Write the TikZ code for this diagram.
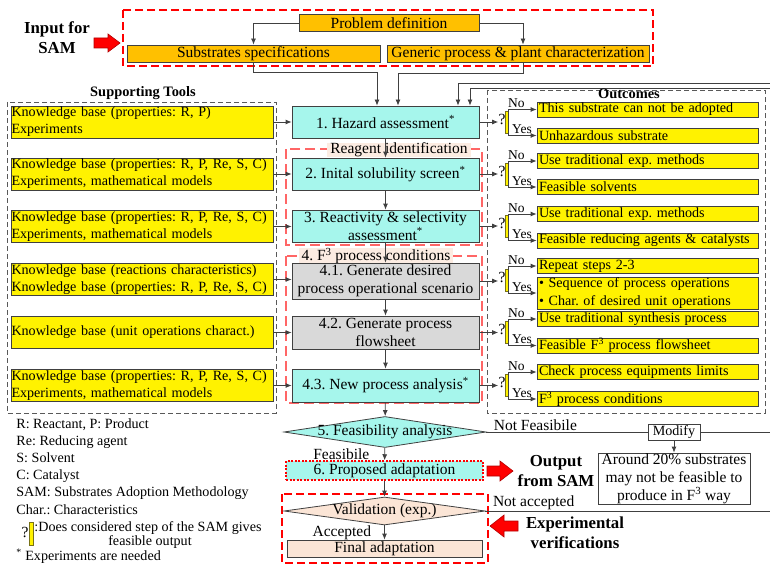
\documentclass[tikz,border=0pt]{standalone}
\usepackage{fontspec}
\setmainfont{Liberation Serif}
\usetikzlibrary{arrows.meta,shapes.geometric}
\definecolor{cOrange}{RGB}{255,192,0}
\definecolor{cCyan}{RGB}{166,246,236}
\definecolor{cGrey}{RGB}{217,217,217}
\definecolor{cPeach}{RGB}{251,229,214}
\definecolor{cTag}{RGB}{252,236,226}
\definecolor{cDark}{RGB}{64,64,64}
\frenchspacing
\begin{document}
\begin{tikzpicture}[x=1pt, y=-1pt, line width=0.8pt, >={Latex[length=6pt,width=5pt]},
	sm/.style={font=\fontsize{14.1}{17.2}\selectfont},
	lg/.style={font=\fontsize{15.5}{17.5}\selectfont},
	lbl/.style={font=\fontsize{13.5}{15}\selectfont, inner sep=1pt},
	hd/.style={font=\fontsize{16.8}{20}\selectfont\bfseries, align=center},
	hdsmall/.style={font=\fontsize{14.4}{17}\selectfont\bfseries, inner sep=0},
	topbox/.style={draw=cDark, fill=cOrange, lg, inner sep=0, minimum height=17},
	stepbox/.style={draw=cDark, fill=cCyan, lg, align=center, inner sep=0, minimum width=187, minimum height=32},
	greybox/.style={stepbox, fill=cGrey},
	toolbox/.style={draw=cDark, fill=yellow, sm, align=left, text width=261, inner xsep=0.5, inner ysep=0, minimum height=32},
	outbox/.style={draw=cDark, fill=yellow, sm, align=left, text width=217, inner xsep=2, inner ysep=0, minimum height=15},
	plainbox/.style={draw=cDark, fill=white, inner sep=0, align=center},
	decision/.style={diamond, draw=cDark, inner sep=0},
	tag/.style={lg, fill=cTag, inner xsep=3, inner ysep=0},
	ask/.style={lg, inner sep=0},
	qbar/.style={draw=olive!80!black, fill=yellow, line width=0.5pt, minimum width=3.5, minimum height=22, inner sep=0},
	redframe/.style={draw=red, line width=1.1pt, dash pattern=on 8pt off 4pt},
	lightframe/.style={draw=red!60, line width=1.1pt, dash pattern=on 10pt off 5pt},
	greyframe/.style={draw=black!65, line width=0.9pt, dash pattern=on 5pt off 3pt},
	redarrow/.style={fill=red, draw=red!70!black, line width=0.6pt},
	link/.style={draw=cDark, ->}]
	\useasboundingbox (0,0) rectangle (770,567);
	\clip (0,0) rectangle (770,567);

	\node[hd] (inlab) at (57,38) {Input for\\SAM};
	\draw[redarrow] (94,38) -- (108,38) -- (108,34) -- (120,43) -- (108,52) -- (108,48) -- (94,48) -- cycle;
	\draw[redframe] (123,10) rectangle (653,66);
	\node[topbox, minimum width=180] (pd) at (389,23) {Problem definition};
	\node[topbox, minimum width=253] (subs) at (253.5,53.5) {Substrates specifications};
	\node[topbox, minimum width=262] (gen) at (518,53.5) {Generic process \& plant characterization};

	\draw[lightframe] (286,149) rectangle (482,245);
	\draw[lightframe] (286,256) rectangle (482,403);
	\node[tag] (reag) at (399,150) {Reagent identification};
	\node[tag] (fcond) at (376,256) {4. F\textsuperscript{3} process conditions};
	\node[stepbox] (haz) at (385.5,122) {1. Hazard assessment\textsuperscript{*}};
	\node[stepbox] (sol) at (385.5,174) {2. Inital solubility screen\textsuperscript{*}};
	\node[stepbox] (rea) at (385.5,226) {3. Reactivity \& selectivity\\assessment\textsuperscript{*}};
	\node[greybox, minimum height=36] (gdes) at (385.5,281) {4.1. Generate desired\\process operational scenario};
	\node[greybox, minimum height=33] (gflow) at (385.5,332.5) {4.2. Generate process\\flowsheet};
	\node[stepbox, minimum height=33] (npa) at (385.5,385.5) {4.3. New process analysis\textsuperscript{*}};
	\node[decision, fill=cCyan, minimum width=202, minimum height=31] (feas) at (385,432) {};
	\node[lg] (feasT) at (feas) {5. Feasibility analysis};
	\node[stepbox, draw=red, line width=1.5pt, dash pattern=on 2pt off 1.5pt, minimum width=197, minimum height=19] (prop) at (384.5,470.5) {6. Proposed adaptation};
	\draw[redframe] (282,494) rectangle (488,563);
	\node[decision, fill=cPeach, minimum width=201, minimum height=28] (val) at (384.5,511) {};
	\node[lg] (valT) at (val) {Validation (exp.)};
	\node[stepbox, fill=cPeach, minimum width=195, minimum height=17] (fin) at (384.5,548.5) {Final adaptation};

	\draw[link] (pd.west) -| (subs.north);
	\draw[link] (pd.east) -| ([xshift=5]gen.north);
	\draw[link] (subs.south) -- ++(0,10) -| ([xshift=-8.5]haz.north);
	\draw[link] ([xshift=5]gen.south) -- ++(0,11) -| ([xshift=12.5]haz.north);
	\draw[link] (haz) -- (sol);
	\draw[link] (sol) -- (rea);
	\draw[link] (rea) -- (gdes);
	\draw[link] (gdes) -- (gflow);
	\draw[link] (gflow) -- (npa);
	\draw[link] (npa) -- (feas);
	\draw[link] (feas) -- (prop) node[midway, left=15pt, lg, inner sep=0] (feasOK) {Feasibile};
	\draw[link] (prop) -- (val);
	\draw[link] (val) -- (fin) node[midway, left=13pt, lg, inner sep=0] (acc) {Accepted};

	\coordinate (fbA) at (458,83);
	\coordinate (fbB) at (470,88);
	\draw[link] (feas.east) -- ++(300,0) node[pos=0.02, above right, inner sep=1pt, lg] (nf) {Not Feasibile} |- (fbB) -- (fbB |- haz.north);
	\draw[link] (val.east) -- ++(310,0) node[pos=0.02, above right, inner sep=1pt, lg] (na) {Not accepted} |- (fbA) -- (fbA |- haz.north);
	\node[plainbox, sm, minimum width=52, minimum height=16] (mod) at (674,432) {Modify};
	\node[plainbox, font=\fontsize{15.5}{18}\selectfont, minimum width=152, minimum height=51] (ar) at (674,478.5) {Around 20\% substrates\\may not be feasible to\\produce in F\textsuperscript{3} way};
	\draw[link] (mod) -- (ar);

	\draw[redarrow] (487,466) -- (500,466) -- (500,461) -- (513,471) -- (500,481) -- (500,476) -- (487,476) -- cycle;
	\node[hd] (outlab) at (556,471) {Output\\from SAM};
	\draw[redarrow] (518,521) -- (504,521) -- (504,515) -- (490,526) -- (504,537) -- (504,531) -- (518,531) -- cycle;
	\node[hd] (explab) at (575,533) {Experimental\\verifications};

	\draw[greyframe] (7,102) rectangle (276,413);
	\node[hdsmall] (tooltitle) at (143,93) {Supporting Tools};
	\node[toolbox] (t1) at (142,122) {Knowledge base (properties: R, P)\\Experiments};
	\node[toolbox] (t2) at (142,174) {Knowledge base (properties: R, P, Re, S, C)\\Experiments, mathematical models};
	\node[toolbox] (t3) at (142,226.5) {Knowledge base (properties: R, P, Re, S, C)\\Experiments, mathematical models};
	\node[toolbox] (t4) at (142,279.5) {Knowledge base (reactions characteristics)\\Knowledge base (properties: R, P, Re, S, C)};
	\node[toolbox] (t5) at (142,332.5) {Knowledge base (unit operations charact.)};
	\node[toolbox] (t6) at (142,385.5) {Knowledge base (properties: R, P, Re, S, C)\\Experiments, mathematical models};
	\draw[link] (t1) -- (t1 -| haz.west);
	\draw[link] (t2) -- (t2 -| sol.west);
	\draw[link] (t3) -- (t3 -| rea.west);
	\draw[link] (t4) -- (t4 -| gdes.west);
	\draw[link] (t5) -- (t5 -| gflow.west);
	\draw[link] (t6) -- (t6 -| npa.west);

	\draw[greyframe] (487,90) rectangle (765,413);
	\node[hdsmall] (outtitle) at (629,94) {Outcomes};
	\node[outbox] (o1n) at (647.5,109.5) {This substrate can not be adopted};
	\node[outbox] (o1y) at (647.5,135.5) {Unhazardous substrate};
	\node[outbox] (o2n) at (647.5,161) {Use traditional exp. methods};
	\node[outbox] (o2y) at (647.5,187) {Feasible solvents};
	\node[outbox] (o3n) at (647.5,214) {Use traditional exp. methods};
	\node[outbox] (o3y) at (647.5,240.5) {Feasible reducing agents \& catalysts};
	\node[outbox] (o4n) at (647.5,266) {Repeat steps 2-3};
	\node[outbox, minimum height=32] (o4y) at (647.5,293) {\textbullet\ Sequence of process operations\\\textbullet\ Char. of desired unit operations};
	\node[outbox] (o5n) at (647.5,319) {Use traditional synthesis process};
	\node[outbox] (o5y) at (647.5,345.5) {Feasible F\textsuperscript{3} process flowsheet};
	\node[outbox] (o6n) at (647.5,372) {Check process equipments limits};
	\node[outbox] (o6y) at (647.5,399) {F\textsuperscript{3} process conditions};

	\node[qbar] (bar1) at (506.5,122) {};
	\node[ask] (ask1) at (502,119) {?};
	\draw[link] (haz) -- (haz -| ask1.west);
	\draw[link] (bar1.east) |- (o1n) node[pos=0.64, above, lbl] (no1) {No};
	\draw[link] (bar1.east) |- (o1y) node[pos=0.74, above, lbl] (yes1) {Yes};

	\node[qbar] (bar2) at (506.5,174) {};
	\node[ask] (ask2) at (502,171) {?};
	\draw[link] (sol) -- (sol -| ask2.west);
	\draw[link] (bar2.east) |- (o2n) node[pos=0.64, above, lbl] (no2) {No};
	\draw[link] (bar2.east) |- (o2y) node[pos=0.74, above, lbl] (yes2) {Yes};

	\node[qbar] (bar3) at (506.5,226) {};
	\node[ask] (ask3) at (502,223) {?};
	\draw[link] (rea) -- (rea -| ask3.west);
	\draw[link] (bar3.east) |- (o3n) node[pos=0.64, above, lbl] (no3) {No};
	\draw[link] (bar3.east) |- (o3y) node[pos=0.74, above, lbl] (yes3) {Yes};

	\node[qbar] (bar4) at (506.5,280) {};
	\node[ask] (ask4) at (502,277) {?};
	\draw[link] (gdes) -- (gdes -| ask4.west);
	\draw[link] (bar4.east) |- (o4n) node[pos=0.64, above, lbl] (no4) {No};
	\draw[link] (bar4.east) |- (o4y) node[pos=0.74, above, lbl] (yes4) {Yes};

	\node[qbar] (bar5) at (506.5,332.5) {};
	\node[ask] (ask5) at (502,329.5) {?};
	\draw[link] (gflow) -- (gflow -| ask5.west);
	\draw[link] (bar5.east) |- (o5n) node[pos=0.64, above, lbl] (no5) {No};
	\draw[link] (bar5.east) |- (o5y) node[pos=0.74, above, lbl] (yes5) {Yes};

	\node[qbar] (bar6) at (506.5,385.5) {};
	\node[ask] (ask6) at (502,382.5) {?};
	\draw[link] (npa) -- (npa -| ask6.west);
	\draw[link] (bar6.east) |- (o6n) node[pos=0.64, above, lbl] (no6) {No};
	\draw[link] (bar6.east) |- (o6y) node[pos=0.74, above, lbl] (yes6) {Yes};

	\node[sm, align=left, anchor=north west, inner sep=0] (legend) at (16,418) {R: Reactant, P: Product\\Re: Reducing agent\\S: Solvent\\C: Catalyst\\SAM: Substrates Adoption Methodology\\Char.: Characteristics};
	\node[qbar, minimum height=23] (barL) at (31,533.5) {};
	\node[ask] (askL) at (25,532) {?};
	\node[sm, anchor=base west, inner sep=0] (legq) at (34,531) {:Does considered step of the SAM gives};
	\node[sm, anchor=base, inner sep=0] (legf) at (150,545) {feasible output};
	\node[sm, anchor=base west, inner sep=0] (lege) at (16,560.5) {\textsuperscript{*} Experiments are needed};
\end{tikzpicture}
\end{document}
